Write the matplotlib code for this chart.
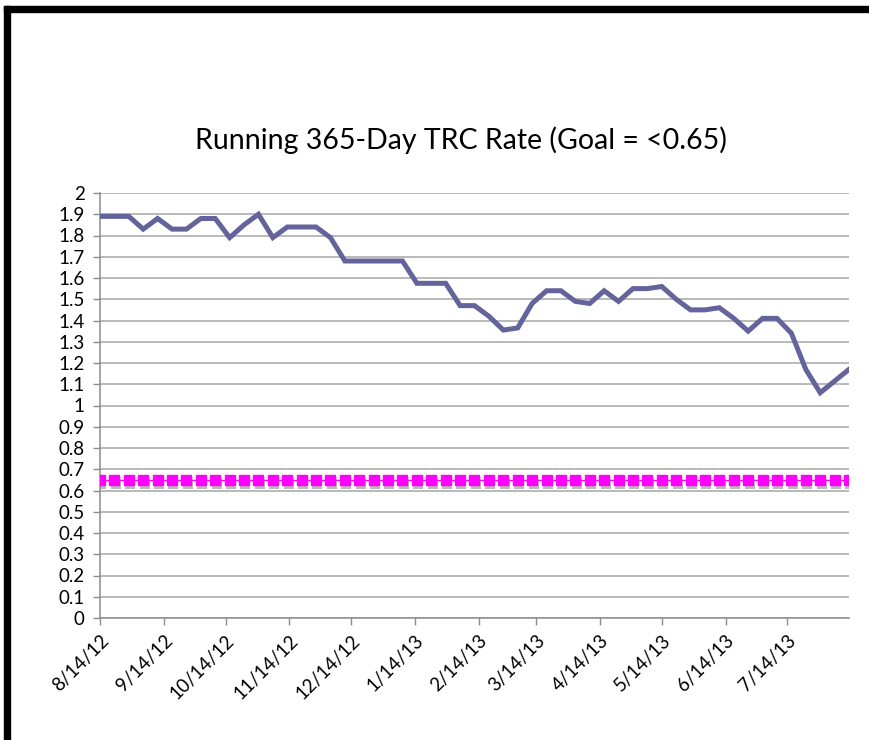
import datetime as dt

import numpy as np
import matplotlib
matplotlib.use("Agg")
import matplotlib.pyplot as plt
import matplotlib.dates as mdates
import matplotlib.patheffects as pe
from matplotlib.patches import Rectangle

# =========================
# DATA (weekly, from 8/14/12)
# =========================
start = dt.date(2012, 8, 14)
trc_rate = [1.89, 1.89, 1.89, 1.83, 1.88, 1.83, 1.83, 1.88, 1.88, 1.79,
            1.85, 1.90, 1.79, 1.84, 1.84, 1.84, 1.79, 1.68, 1.68, 1.68,
            1.68, 1.68, 1.575, 1.575, 1.575, 1.47, 1.47, 1.42, 1.355, 1.365,
            1.48, 1.54, 1.54, 1.49, 1.48, 1.54, 1.49, 1.55, 1.55, 1.56,
            1.50, 1.45, 1.45, 1.46, 1.41, 1.35, 1.41, 1.41, 1.34, 1.17,
            1.06, 1.115, 1.17]
goal = 0.65
dates = [start + dt.timedelta(weeks=i) for i in range(len(trc_rate))]
goal_vals = [goal] * len(dates)

tick_dates = [dt.date(2012 + (7 + m) // 12, (7 + m) % 12 + 1, 14) for m in range(12)]
tick_labels = [f"{d.month}/{d.day}/{d.year % 100}" for d in tick_dates]
y_ticks = [round(v * 0.1, 1) for v in range(21)]
y_labels = ["0", "0.1", "0.2", "0.3", "0.4", "0.5", "0.6", "0.7", "0.8", "0.9", "1",
            "1.1", "1.2", "1.3", "1.4", "1.5", "1.6", "1.7", "1.8", "1.9", "2"]

title = "Running 365-Day TRC Rate (Goal = <0.65)"

# =========================
# PLOT
# =========================
plt.rcParams['font.family'] = ['Lato', 'DejaVu Sans']

fig = plt.figure(figsize=(8.7, 7.4), dpi=100)
ax = fig.add_axes([100 / 870, 122 / 740, 749 / 870, 425 / 740])

# black frame bits
fig.patches.append(Rectangle((4 / 870, 0), 6 / 870, 734 / 740, transform=fig.transFigure,
                             color="black", zorder=0))
fig.patches.append(Rectangle((4 / 870, 728 / 740), 866 / 870, 6 / 740, transform=fig.transFigure,
                             color="black", zorder=0))

ax.plot(dates, trc_rate, color="#64639C", lw=3.6, solid_joinstyle="miter", zorder=3)
ax.plot(dates, goal_vals, color="#FF00FF", lw=1, marker="s", ms=7.2, mec="#FF00FF",
        zorder=4,
        path_effects=[pe.SimplePatchShadow(offset=(1, -3), shadow_rgbFace="#777777", alpha=0.5),
                      pe.Normal()])

ax.set_xlim(dates[0], dates[-1])
ax.set_ylim(0, 2)
ax.set_yticks(y_ticks)
ax.set_yticklabels(y_labels)
ax.set_xticks(tick_dates)
ax.set_xticklabels(tick_labels, rotation=45, ha="right", rotation_mode="anchor")

ax.grid(axis="y", color="#A6A6A6", lw=1.1)
ax.set_axisbelow(True)
for s in ["top", "right"]:
    ax.spines[s].set_visible(False)
for s in ["left", "bottom"]:
    ax.spines[s].set_color("#8C8C8C")
    ax.spines[s].set_linewidth(1.1)
ax.tick_params(axis="both", colors="#8C8C8C", length=5, width=1, labelsize=13.5,
               labelcolor="black")
ax.tick_params(axis="y", pad=6)
ax.tick_params(axis="x", pad=5)

fig.text(461 / 870, 1 - 140 / 740, title, ha="center", va="center", fontsize=20.5)

fig.savefig("out.png", dpi=100)
plt.close()
